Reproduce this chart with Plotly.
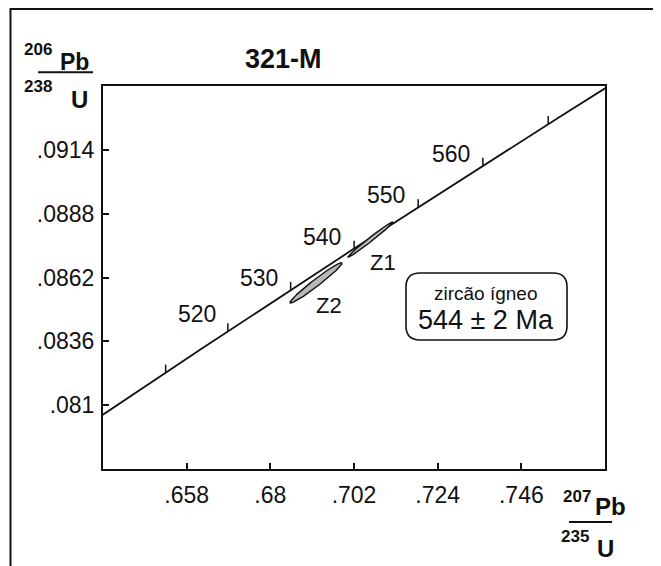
import numpy as np
import plotly.graph_objects as go

# ---- data ----
tick_ages = [510, 520, 530, 540, 550, 560, 570]          # Ma, ticks on concordia
label_ages = [520, 530, 540, 550, 560]                    # labelled ages
xticks = [0.658, 0.68, 0.702, 0.724, 0.746]
xtick_text = [".658", ".68", ".702", ".724", ".746"]
yticks = [0.081, 0.0836, 0.0862, 0.0888, 0.0914]
ytick_text = [".081", ".0836", ".0862", ".0888", ".0914"]
ell_names = ["Z1", "Z2"]
ell_x = [0.70633, 0.69202]        # 207Pb/235U
ell_y = [0.087749, 0.085984]      # 206Pb/238U
ell_sx = [0.00591, 0.00685]
ell_sy = [0.000717, 0.000823]
ell_rho = [0.990, 0.976]
title = "321-M"
box_line1 = "zircão ígneo"
box_line2 = "544 ± 2 Ma"

L238 = 1.55125e-10
L235 = 9.8485e-10

def conc(t_ma):
    t = np.asarray(t_ma, dtype=float) * 1e6
    return np.exp(L235 * t) - 1, np.exp(L238 * t) - 1

XR = [0.636, 0.768]
YR = [0.0784, 0.0940]
OFF = 8                      # page body margin
W, H = 661 - OFF, 566 - OFF
ML, MR, MT, MB = 103 - OFF, 56, 86 - OFF, 97
PW, PH = W - ML - MR, H - MT - MB
PXX = PW / (XR[1] - XR[0])   # px per x unit
PXY = PH / (YR[1] - YR[0])   # px per y unit

def px(x):   # x in screen pixels -> paper
    return (x - OFF - ML) / PW

def py(y):   # y in screen pixels -> paper
    return (H - MB - (y - OFF)) / PH

FONT = "Liberation Sans, Arial, sans-serif"
INK = "#111111"

fig = go.Figure()

# concordia curve
tc = np.linspace(495, 590, 400)
cx, cy = conc(tc)
fig.add_trace(go.Scatter(x=cx, y=cy, mode="lines",
                         line=dict(color=INK, width=1.8), hoverinfo="skip"))

# concordia age ticks (short vertical strokes upwards)
tx, ty = conc(tick_ages)
dy = 8 / PXY
sx_, sy_ = [], []
for a, b in zip(tx, ty):
    sx_ += [a, a, None]
    sy_ += [b, b + dy, None]
fig.add_trace(go.Scatter(x=sx_, y=sy_, mode="lines",
                         line=dict(color=INK, width=1.5), hoverinfo="skip"))

# error ellipses
th = np.linspace(0, 2 * np.pi, 200)
for cxe, cye, sx, sy, r in zip(ell_x, ell_y, ell_sx, ell_sy, ell_rho):
    ex = cxe + sx * np.cos(th)
    ey = cye + sy * (r * np.cos(th) + np.sqrt(1 - r * r) * np.sin(th))
    fig.add_trace(go.Scatter(x=ex, y=ey, mode="lines", fill="toself",
                             fillcolor="#b8b8b8",
                             line=dict(color=INK, width=1.4), hoverinfo="skip"))

annotations = []
# age labels
lx, ly = conc(label_ages)
lab_shift = {520: (-31, 17)}
for age, a, b in zip(label_ages, lx, ly):
    xs, ys = lab_shift.get(age, (-32, 12))
    annotations.append(dict(x=a, y=b, xref="x", yref="y", text=str(age),
                            showarrow=False, xshift=xs, yshift=ys,
                            xanchor="center", yanchor="middle",
                            font=dict(family=FONT, size=23, color=INK)))
# ellipse labels
for name, a, b in zip(ell_names, ell_x, ell_y):
    annotations.append(dict(x=a, y=b, xref="x", yref="y", text=name,
                            showarrow=False, xshift=13, yshift=-23,
                            xanchor="center", yanchor="middle",
                            font=dict(family=FONT, size=22, color=INK)))

def txt(x, y, s, size, bold=True):
    annotations.append(dict(x=px(x), y=py(y), xref="paper", yref="paper",
                            text=("<b>%s</b>" % s) if bold else s,
                            showarrow=False, xanchor="center", yanchor="middle",
                            font=dict(family=FONT, size=size, color=INK)))

# title
txt(283, 59, title, 27)

# y-axis label 206Pb/238U
txt(38, 50, "206", 17)
txt(74, 62, "Pb", 23)
txt(38, 86, "238", 17)
txt(79, 100, "U", 24)
# x-axis label 207Pb/235U
txt(577, 497, "207", 17)
txt(610, 506, "Pb", 24)
txt(575, 536, "235", 17)
txt(605, 548, "U", 24)

# box text
txt(486, 293, box_line1, 19, bold=False)
txt(486, 320, box_line2, 27, bold=False)

shapes = []
# fraction bars
shapes.append(dict(type="line", xref="paper", yref="paper",
                   x0=px(38), x1=px(93), y0=py(72.3), y1=py(72.3),
                   line=dict(color=INK, width=2)))
shapes.append(dict(type="line", xref="paper", yref="paper",
                   x0=px(569), x1=px(612), y0=py(522), y1=py(522),
                   line=dict(color=INK, width=2)))
# rounded box
bx0, bx1, by0, by1, rr = 406, 567, 273, 340, 14
def P(x, y):
    return "%f,%f" % (px(x), py(y))
path = ("M " + P(bx0 + rr, by0) + " L " + P(bx1 - rr, by0) +
        " Q " + P(bx1, by0) + " " + P(bx1, by0 + rr) +
        " L " + P(bx1, by1 - rr) +
        " Q " + P(bx1, by1) + " " + P(bx1 - rr, by1) +
        " L " + P(bx0 + rr, by1) +
        " Q " + P(bx0, by1) + " " + P(bx0, by1 - rr) +
        " L " + P(bx0, by0 + rr) +
        " Q " + P(bx0, by0) + " " + P(bx0 + rr, by0) + " Z")
shapes.append(dict(type="path", xref="paper", yref="paper", path=path,
                   line=dict(color=INK, width=1.6), fillcolor="white", layer="below"))
# outer frame (top and left edges)
shapes.append(dict(type="path", xref="paper", yref="paper",
                   path="M %f,%f L %f,%f L %f,%f" % (px(10.5), py(570), px(10.5), py(9), px(670), py(9)),
                   line=dict(color=INK, width=2)))

fig.update_layout(
    width=W, height=H,
    margin=dict(l=ML, r=MR, t=MT, b=MB, pad=0),
    paper_bgcolor="white", plot_bgcolor="white",
    showlegend=False,
    annotations=annotations, shapes=shapes,
    xaxis=dict(range=XR, tickvals=xticks, ticktext=xtick_text,
               ticks="inside", ticklen=6, tickwidth=2, tickcolor=INK,
               showline=True, linewidth=2, linecolor=INK, mirror=True,
               showgrid=False, zeroline=False,
               tickfont=dict(family=FONT, size=23, color=INK),
               ticklabelstandoff=4),
    yaxis=dict(range=YR, tickvals=yticks, ticktext=ytick_text,
               ticks="inside", ticklen=6, tickwidth=2, tickcolor=INK,
               showline=True, linewidth=2, linecolor=INK, mirror=True,
               showgrid=False, zeroline=False,
               tickfont=dict(family=FONT, size=23, color=INK),
               ticklabelstandoff=2),
)

fig.write_html("out.html")
